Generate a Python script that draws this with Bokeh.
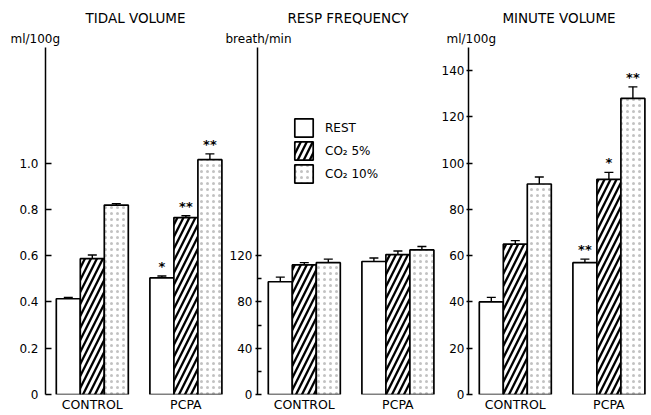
from bokeh.plotting import figure
from bokeh.layouts import row
from bokeh.models import (ColumnDataSource, Whisker, FixedTicker, Title, Legend,
                          LegendItem, TeeHead, Range1d)
from bokeh.embed import file_html
from bokeh.resources import INLINE
from bokeh.core.properties import value

# ---------------- data ----------------
groups = ["CONTROL", "PCPA"]
conditions = ["REST", "CO₂ 5%", "CO₂ 10%"]

# order: CONTROL rest, 5%, 10%, PCPA rest, 5%, 10%
tv_mean = [0.414, 0.587, 0.819, 0.504, 0.765, 1.015]
tv_err = [0.006, 0.016, 0.006, 0.008, 0.008, 0.025]
tv_sig = ["", "", "", "*", "**", "**"]
tv_ticks = [0, 0.2, 0.4, 0.6, 0.8, 1.0]
tv_labels = ["0", "0.2", "0.4", "0.6", "0.8", "1.0"]

rf_mean = [97.5, 112, 114, 115, 121, 125]
rf_err = [4, 2, 3, 3, 3, 3]
rf_sig = ["", "", "", "", "", ""]
rf_ticks = [0, 40, 80, 120]
rf_minor = [20, 60, 100]
rf_labels = ["0", "40", "80", "120"]

mv_mean = [40, 65, 91, 57, 93, 128]
mv_err = [2, 1.5, 3, 1.5, 3, 5]
mv_sig = ["", "", "", "**", "*", "**"]
mv_ticks = [0, 20, 40, 60, 80, 100, 120, 140]
mv_labels = ["0", "20", "40", "60", "80", "100", "120", "140"]

FONT = "DejaVu Sans"
FRAME_H = 347
TOP = 47
BAR_PX = 24.0
group_centers = [1.95, 5.85]


def make_panel(mean, err, sig, ymax, ticks, labels, minor, title, unit,
               unit_offset, left_border, frame_w, tick_in, tick_out,
               standoff, legend=False):
    xmax = frame_w / BAR_PX
    p = figure(frame_width=frame_w, frame_height=FRAME_H,
               x_range=Range1d(0, xmax), y_range=Range1d(0, ymax),
               output_backend="svg", toolbar_location=None,
               min_border_left=left_border, min_border_right=0,
               min_border_top=TOP, min_border_bottom=0)
    p.xgrid.visible = False
    p.ygrid.visible = False
    p.outline_line_color = None
    p.background_fill_color = "white"
    p.border_fill_color = "white"

    renderers = []
    for i in range(3):
        xs = [gc + (i - 1) for gc in group_centers]
        tops = [mean[g * 3 + i] for g in range(2)]
        kw = dict(x=xs, top=tops, bottom=0, width=1.0, fill_color="white",
                  line_color="black", line_width=1.7)
        if i == 1:
            kw.update(hatch_pattern="/", hatch_color="black",
                      hatch_weight=2.3, hatch_scale=12)
        elif i == 2:
            kw.update(hatch_pattern=".", hatch_color="#777777",
                      hatch_weight=0.5, hatch_scale=6, hatch_alpha=0.45)
        r = p.vbar(**kw)
        renderers.append(r)

    xs_all = [gc + (i - 1) for gc in group_centers for i in range(3)]
    src = ColumnDataSource(dict(
        x=xs_all,
        upper=[m + e for m, e in zip(mean, err)],
        lower=[m - e for m, e in zip(mean, err)],
        sig=sig,
    ))
    w = Whisker(base="x", upper="upper", lower="lower", source=src,
                line_width=1.4, line_color="black",
                upper_head=TeeHead(size=9, line_width=1.4, line_color="black"),
                lower_head=TeeHead(size=9, line_width=1.4, line_color="black"))
    p.add_layout(w)
    p.text(x="x", y="upper", text="sig", source=src, text_align="center",
           text_baseline="bottom", y_offset=-2, text_font=value(FONT),
           text_font_size="13px", text_font_style="bold", text_color="black")

    ya = p.yaxis[0]
    ya.ticker = FixedTicker(ticks=ticks, minor_ticks=minor)
    ya.major_label_overrides = {t: l for t, l in zip(ticks, labels)}
    ya.major_tick_in = tick_in
    ya.major_tick_out = tick_out
    ya.minor_tick_in = 4
    ya.minor_tick_out = 0
    ya.axis_line_width = 1.5
    ya.axis_line_color = "black"
    ya.major_tick_line_color = "black"
    ya.minor_tick_line_color = "black"
    ya.major_tick_line_width = 1.5
    ya.minor_tick_line_width = 1.3
    ya.major_label_text_font = FONT
    ya.major_label_text_font_size = "12px"
    ya.major_label_text_color = "black"
    ya.major_label_standoff = standoff

    xa = p.xaxis[0]
    xa.ticker = FixedTicker(ticks=group_centers)
    xa.major_label_overrides = {gc: g for gc, g in zip(group_centers, groups)}
    xa.axis_line_color = None
    xa.major_tick_line_color = None
    xa.minor_tick_line_color = None
    xa.major_tick_out = 0
    xa.major_tick_in = 0
    xa.minor_tick_out = 0
    xa.minor_tick_in = 0
    xa.major_label_text_font = FONT
    xa.major_label_text_font_size = "12.5px"
    xa.major_label_text_color = "black"
    xa.major_label_standoff = 2

    p.add_layout(Title(text=unit, align="left", offset=unit_offset,
                       text_font=FONT, text_font_size="12px",
                       text_color="black",
                       text_font_style="normal", standoff=4), "above")
    p.add_layout(Title(text=title, align="center", text_font=FONT,
                       text_font_size="13.5px", text_font_style="normal",
                       text_color="black", standoff=3), "above")

    if legend:
        lg = Legend(items=[LegendItem(label=c, renderers=[r])
                           for c, r in zip(conditions, renderers)],
                    location=(35, 209), glyph_width=23, glyph_height=23,
                    spacing=0, padding=0, margin=0, label_standoff=10,
                    border_line_color=None, background_fill_alpha=0,
                    label_text_font=FONT, label_text_font_size="12px",
                    label_text_color="black")
        p.add_layout(lg, "center")
    return p


p1 = make_panel(tv_mean, tv_err, tv_sig, 1.5, tv_ticks, tv_labels, [],
                "TIDAL VOLUME", "ml/100g", -35, 45, 180, 6, 0, 7)
p2 = make_panel(rf_mean, rf_err, rf_sig, 300, rf_ticks, rf_labels, rf_minor,
                "RESP FREQUENCY", "breath/min", -32, 32, 181, 4, 2, 3,
                legend=True)
p3 = make_panel(mv_mean, mv_err, mv_sig, 150, mv_ticks, mv_labels, [],
                "MINUTE VOLUME", "ml/100g", -22, 29, 181, 4, 2, 2)

layout = row(p1, p2, p3, spacing=0)
open("out.html", "w").write(file_html(layout, INLINE))
